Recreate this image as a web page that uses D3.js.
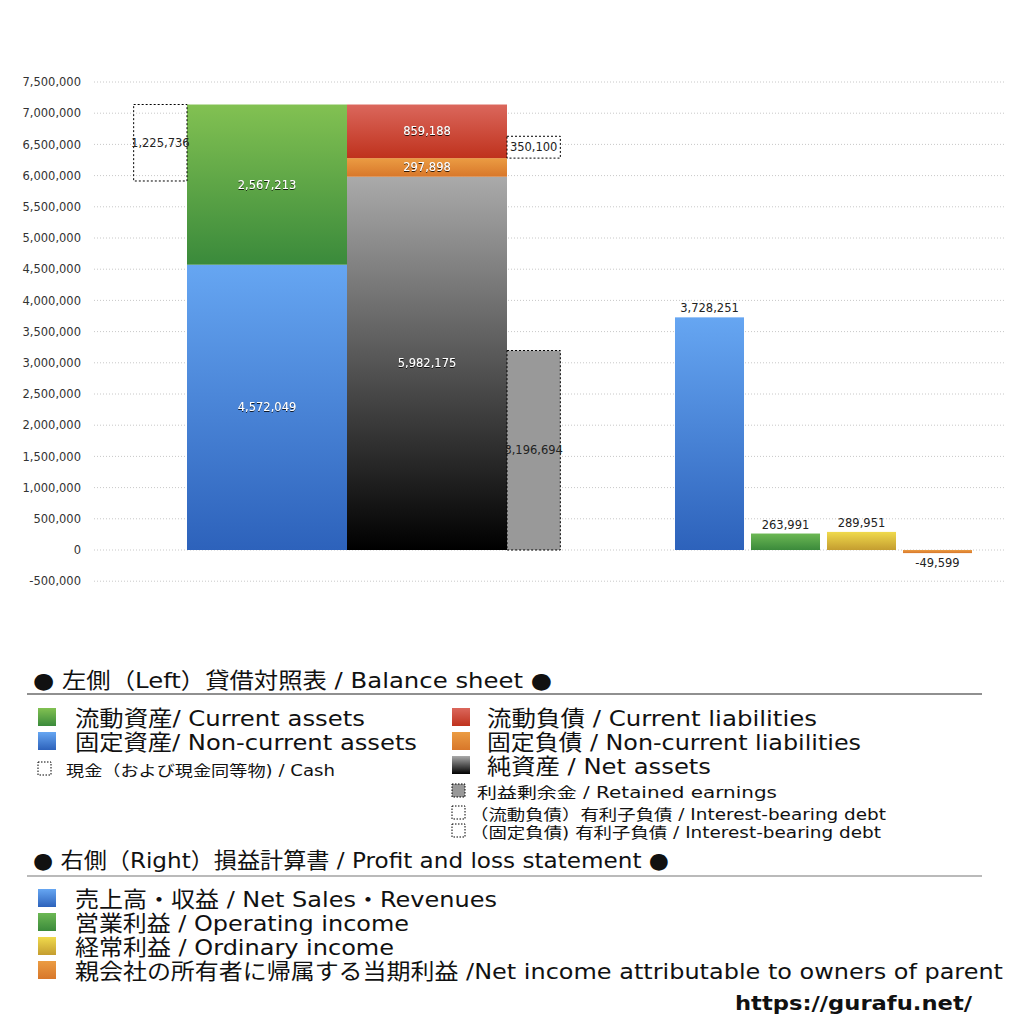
<!DOCTYPE html>
<html>
<head>
<meta charset="utf-8">
<script src="https://cdn.jsdelivr.net/npm/d3@7"></script>
<style>
  body { margin: 0; background: #fff; }
  svg { font-family: "DejaVu Sans", "Noto Sans CJK JP", sans-serif; }
</style>
</head>
<body>
<svg id="chart" width="1024" height="1024"></svg>
<script>
// ---- data ----
const assetNames = ['固定資産', '流動資産']
const assetValues = [4572049, 2567213]
const liabNames = ['純資産', '固定負債', '流動負債']
const liabValues = [5982175, 297898, 859188]
const cashValues = [1225736]
const retainedValues = [3196694]
const debtNames = ['流動負債 有利子負債', '固定負債 有利子負債']
const debtValues = [350100, 0]
const plNames = ['売上高', '営業利益', '経常利益', '当期利益']
const plValues = [3728251, 263991, 289951, -49599]
const yTicks = d3.range(-500000, 7500001, 500000)

const bsLegendLeft = ['流動資産/ Current assets', '固定資産/ Non-current assets']
const bsLegendRight = ['流動負債 /  Current liabilities', '固定負債 / Non-current liabilities', '純資産 / Net assets']
const bsLegendSmall = ['利益剰余金 / Retained earnings', '（流動負債）有利子負債 / Interest-bearing debt', '（固定負債) 有利子負債 / Interest-bearing debt']
const plLegend = ['売上高・収益 / Net Sales・Revenues', '営業利益 / Operating income', '経常利益 / Ordinary income', '親会社の所有者に帰属する当期利益 /Net income attributable to owners of parent']

// text widths measured on the reference, used to fit the legend lines
const wLeft = [290, 342]
const wRight = [330, 374, 224]
const wSmall = [300, 416, 411]
const wPl = [422, 334, 319, 928]

// ---- colours ----
const grads = {
  green: ['#82c152', '#3a8a3b'],
  blue: ['#66a6f2', '#2d62bb'],
  red: ['#db675c', '#bf321d'],
  orange: ['#eb9c43', '#d8772a'],
  gray: ['#aaaaaa', '#000000'],
  yellow: ['#f0da4c', '#c49d30'],
  pgreen: ['#6cb854', '#3b8a3b']
}
const assetColors = ['blue', 'green']
const liabColors = ['gray', 'orange', 'red']
const plColors = ['blue', 'pgreen', 'yellow', 'orange']

const fmt = d => d3.format(',')(d).replace('−', '-')

const svg = d3.select('#chart')
const defs = svg.append('defs')
Object.entries(grads).forEach(([k, c]) => {
  let g = defs.append('linearGradient').attr('id', 'g_' + k)
    .attr('x1', 0).attr('y1', 0).attr('x2', 0).attr('y2', 1)
  g.append('stop').attr('offset', '0%').attr('stop-color', c[0])
  g.append('stop').attr('offset', '100%').attr('stop-color', c[1])
})
let sh = defs.append('filter').attr('id', 'shadow').attr('x', '-20%').attr('y', '-20%').attr('width', '140%').attr('height', '140%')
sh.append('feDropShadow').attr('dx', 0).attr('dy', 1).attr('stdDeviation', 0.6).attr('flood-color', '#000').attr('flood-opacity', 0.8)

// ---- scales ----
const y = d3.scaleLinear().domain([-500000, 7500000]).range([581.2, 82])
const xBs = d3.scaleBand().domain(['assets', 'liab']).range([187, 507]).padding(0)
const sideW = xBs.bandwidth() / 3
const xPl = d3.scaleBand().domain(plNames).range([671.5, 975.5]).paddingInner(0.092).paddingOuter(0.046)

// grid + axis
const yAxis = d3.axisLeft(y).tickValues(yTicks).tickSize(0).tickPadding(0).tickFormat(fmt)
svg.append('g').attr('transform', 'translate(89,0)').call(yAxis)
  .call(g => g.select('.domain').remove())
  .call(g => g.selectAll('text').attr('font-size', 11.5).attr('fill', '#333').attr('x', -8)
    .attr('font-family', '"DejaVu Sans", sans-serif'))
svg.append('g').selectAll('line').data(yTicks).join('line')
  .attr('x1', 94).attr('x2', 1006)
  .attr('y1', d => y(d)).attr('y2', d => y(d))
  .attr('stroke', '#c8c8c8').attr('stroke-width', 1).attr('stroke-dasharray', '1,2')

// stack helper
function stacked(values) {
  let acc = 0
  return values.map(v => { let s = acc; acc += v; return [s, acc, v] })
}

// assets column
const aStack = stacked(assetValues)
svg.append('g').selectAll('rect').data(aStack).join('rect')
  .attr('x', xBs('assets')).attr('width', xBs.bandwidth())
  .attr('y', d => y(d[1])).attr('height', d => y(d[0]) - y(d[1]))
  .attr('fill', (d, i) => 'url(#g_' + assetColors[i] + ')')
svg.append('g').selectAll('text').data(aStack).join('text')
  .attr('x', xBs('assets') + xBs.bandwidth() / 2)
  .attr('y', d => (y(d[0]) + y(d[1])) / 2 + 4)
  .attr('text-anchor', 'middle').attr('font-size', 11.5).attr('fill', '#fff')
  .attr('filter', 'url(#shadow)')
  .text(d => fmt(d[2]))

// liabilities column
const lStack = stacked(liabValues)
svg.append('g').selectAll('rect').data(lStack).join('rect')
  .attr('x', xBs('liab')).attr('width', xBs.bandwidth())
  .attr('y', d => y(d[1])).attr('height', d => y(d[0]) - y(d[1]))
  .attr('fill', (d, i) => 'url(#g_' + liabColors[i] + ')')
svg.append('g').selectAll('text').data(lStack).join('text')
  .attr('x', xBs('liab') + xBs.bandwidth() / 2)
  .attr('y', d => (y(d[0]) + y(d[1])) / 2 + 4)
  .attr('text-anchor', 'middle').attr('font-size', 11.5).attr('fill', '#fff')
  .attr('filter', 'url(#shadow)')
  .text(d => fmt(d[2]))

// cash box (aligned to top of assets)
const assetTop = d3.sum(assetValues)
svg.append('g').selectAll('rect').data(cashValues).join('rect')
  .attr('x', xBs('assets') - sideW).attr('width', sideW)
  .attr('y', y(assetTop)).attr('height', d => y(assetTop - d) - y(assetTop))
  .attr('fill', 'none').attr('stroke', '#000').attr('stroke-width', 1).attr('stroke-dasharray', '2,2')
svg.append('g').selectAll('text').data(cashValues).join('text')
  .attr('x', xBs('assets') - sideW / 2)
  .attr('y', d => (y(assetTop) + y(assetTop - d)) / 2 + 4)
  .attr('text-anchor', 'middle').attr('font-size', 11.5).attr('fill', '#222')
  .text(d => fmt(d))

// retained earnings box
const sideX = xBs('liab') + xBs.bandwidth()
svg.append('g').selectAll('rect').data(retainedValues).join('rect')
  .attr('x', sideX).attr('width', sideW)
  .attr('y', d => y(d)).attr('height', d => y(0) - y(d))
  .attr('fill', '#999').attr('stroke', '#000').attr('stroke-width', 1).attr('stroke-dasharray', '2,2')
svg.append('g').selectAll('text').data(retainedValues).join('text')
  .attr('x', sideX + sideW / 2)
  .attr('y', d => (y(0) + y(d)) / 2 + 4)
  .attr('text-anchor', 'middle').attr('font-size', 11.5).attr('fill', '#222')
  .text(d => fmt(d))

// interest-bearing debt boxes (current at bottom of current liabilities, fixed at bottom of fixed)
const debtBase = [lStack[2][0], lStack[1][0]]
const debtData = debtValues.map((v, i) => ({ v, base: debtBase[i] })).filter(d => d.v > 0)
svg.append('g').selectAll('rect').data(debtData).join('rect')
  .attr('x', sideX).attr('width', sideW)
  .attr('y', d => y(d.base + d.v)).attr('height', d => y(d.base) - y(d.base + d.v))
  .attr('fill', '#fff').attr('stroke', '#000').attr('stroke-width', 1).attr('stroke-dasharray', '2,2')
svg.append('g').selectAll('text').data(debtData).join('text')
  .attr('x', sideX + sideW / 2)
  .attr('y', d => (y(d.base) + y(d.base + d.v)) / 2 + 4)
  .attr('text-anchor', 'middle').attr('font-size', 11.5).attr('fill', '#222')
  .text(d => fmt(d.v))

// profit & loss bars
svg.append('g').selectAll('rect').data(plValues).join('rect')
  .attr('x', (d, i) => xPl(plNames[i])).attr('width', xPl.bandwidth())
  .attr('y', d => y(Math.max(0, d))).attr('height', d => Math.abs(y(d) - y(0)))
  .attr('fill', (d, i) => 'url(#g_' + plColors[i] + ')')
svg.append('g').selectAll('text').data(plValues).join('text')
  .attr('x', (d, i) => xPl(plNames[i]) + xPl.bandwidth() / 2)
  .attr('y', d => d >= 0 ? y(d) - 5 : y(d) + 14)
  .attr('text-anchor', 'middle').attr('font-size', 11.5).attr('fill', '#222')
  .text(d => fmt(d))

// ---- legend ----
const lg = svg.append('g')
lg.append('text').attr('x', 33).attr('y', 688).attr('font-size', 22).attr('fill', '#111')
  .attr('textLength', 519).attr('lengthAdjust', 'spacingAndGlyphs')
  .text('● 左側（Left）貸借対照表 / Balance sheet ●')
lg.append('line').attr('x1', 27).attr('x2', 982).attr('y1', 694).attr('y2', 694).attr('stroke', '#222').attr('stroke-width', 1.2)

function swatch(x, yy, size, fill, dashed) {
  let r = lg.append('rect').attr('x', x).attr('y', yy).attr('width', size).attr('height', size)
  if (dashed) r.attr('fill', fill).attr('stroke', '#000').attr('stroke-width', 1).attr('stroke-dasharray', '1.5,1.5')
  else r.attr('fill', fill)
}
function label(x, yy, size, t, w) {
  return lg.append('text').attr('x', x).attr('y', yy).attr('font-size', size).attr('fill', '#111')
    .attr('textLength', w).attr('lengthAdjust', 'spacingAndGlyphs').text(t)
}

const legColL = ['green', 'blue']
bsLegendLeft.forEach((t, i) => {
  swatch(38, 708 + i * 24, 18, 'url(#g_' + legColL[i] + ')')
  label(75, 726 + i * 24, 22, t, wLeft[i])
})
swatch(38, 762, 13, '#fff', true)
label(66, 776, 15, '現金（および現金同等物) / Cash', 269)

const legColR = ['red', 'orange', 'gray']
bsLegendRight.forEach((t, i) => {
  swatch(452, 708 + i * 24, 18, 'url(#g_' + legColR[i] + ')')
  label(487, 726 + i * 24, 22, t, wRight[i])
})
const smallFill = ['#999', '#fff', '#fff']
bsLegendSmall.forEach((t, i) => {
  let yy = [798, 820, 838][i]
  swatch(452, yy - 14, 13, smallFill[i], true)
  label(i === 0 ? 477 : 470, yy, 15, t, wSmall[i])
})

lg.append('text').attr('x', 33).attr('y', 868).attr('font-size', 22).attr('fill', '#111')
  .attr('textLength', 636).attr('lengthAdjust', 'spacingAndGlyphs')
  .text('● 右側（Right）損益計算書 / Profit and loss statement ●')
lg.append('line').attr('x1', 27).attr('x2', 982).attr('y1', 876).attr('y2', 876).attr('stroke', '#777').attr('stroke-width', 1.2)

plLegend.forEach((t, i) => {
  swatch(38, 889 + i * 24, 18, 'url(#g_' + plColors[i] + ')')
  label(75, 907 + i * 24, 22, t, wPl[i])
})

svg.append('text').attr('x', 735).attr('y', 1010)
  .attr('font-size', 20).attr('font-weight', 'bold').attr('fill', '#111')
  .attr('font-family', '"DejaVu Sans", sans-serif')
  .attr('textLength', 237).attr('lengthAdjust', 'spacingAndGlyphs')
  .text('https://gurafu.net/')
</script>
</body>
</html>
